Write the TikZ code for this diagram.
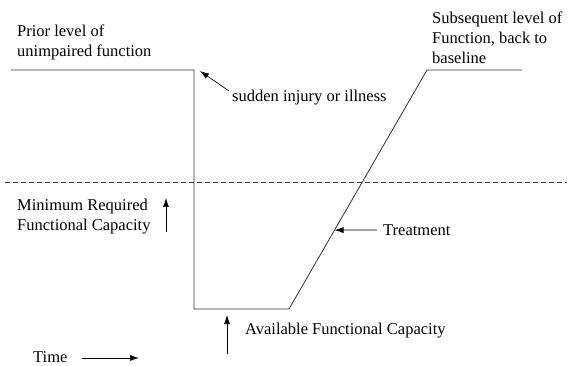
\documentclass[tikz,border=0pt]{standalone}
\usepackage{fontspec}
\setmainfont{Liberation Serif}
\usetikzlibrary{arrows.meta,calc,positioning}

\begin{document}
\begin{tikzpicture}[x=1pt,y=-1pt,
  label/.style={inner sep=0pt,align=left,font=\fontsize{16.5}{20}\selectfont},
  curve/.style={draw=black!80,line width=0.8pt},
  pointer/.style={-{Latex[length=9pt,width=6pt]},line width=0.7pt}]
  \useasboundingbox (0,0) rectangle (573,366);
  % Define points of the function curve
  \coordinate (P1) at (11,70);
  \coordinate (P2) at (194,70);
  \coordinate (P3) at (194,309);
  \coordinate (P4) at (289,309);
  \coordinate (P5) at (427,70);
  \coordinate (P6) at (522,70);
  % Threshold
  \coordinate (T1) at (5,182);
  \coordinate (T2) at (567,182);
  % Labels
  \node[label,anchor=west] (prior) at (17,42) {Prior level of\\unimpaired function};
  \node[label,anchor=west] (after) at (432,38) {Subsequent level of\\Function, back to\\baseline};
  \node[label,anchor=west] (injury) at (232,98) {sudden injury or illness};
  \node[label,anchor=west] (minimum) at (17,217) {Minimum Required\\Functional Capacity};
  \node[label,anchor=west] (treat) at (383,230) {Treatment};
  \node[label,anchor=west] (avail) at (245,331) {Available Functional Capacity};
  \node[label,anchor=west] (time) at (33,357) {Time};
  % Arrow ends
  \coordinate (injtail) at (229,91);
  \coordinate (injtip) at (200,71);
  \coordinate (mintail) at (166,232);
  \coordinate (mintip) at (166,198);
  \coordinate (avtail) at (227,354);
  \coordinate (avtip) at (227,315);
  \coordinate (timetail) at (82,358);
  \coordinate (timetip) at (139,358);
  % Curves
  \draw[curve] (P1) -- (P2) -- (P3) -- (P4) -- (P5) -- (P6);
  \draw[curve,line width=0.6pt,dash pattern=on 5pt off 3pt] (T1) -- (T2);
  % Pointers
  \draw[pointer] (injtail) -- (injtip);
  \draw[pointer] (mintail) -- (mintip);
  \draw[pointer] (avtail) -- (avtip);
  \draw[pointer] ([xshift=-6pt]treat.west) -- ($(P4)!0.33!(P5)$);
  \draw[pointer] (timetail) -- (timetip);
\end{tikzpicture}
\end{document}
